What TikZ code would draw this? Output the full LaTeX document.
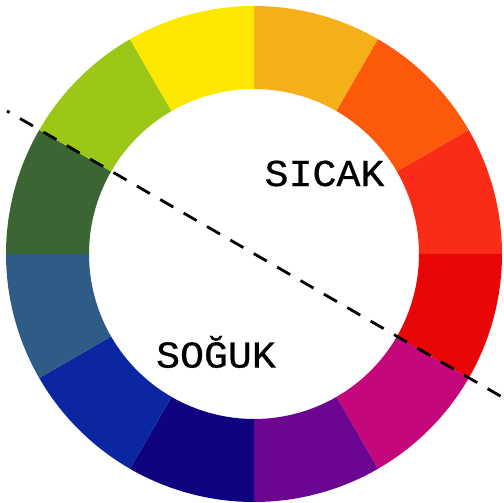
\documentclass[tikz,border=0pt]{standalone}
\usepackage{fontspec}
\usetikzlibrary{calc}
\newfontfamily\labelfont[FakeBold=0.6]{Liberation Mono}
\begin{document}
\begin{tikzpicture}[x=1pt,y=1pt,
  lbl/.style={font=\labelfont\fontsize{38}{38}\selectfont, text=black, inner sep=0pt, xscale=1.05},
  divider/.style={line width=2.8pt, dash pattern=on 15pt off 12pt, dash phase=12pt}]
\useasboundingbox (0,0) rectangle (504,503);
\fill[white] (0,0) rectangle (504,503);
\coordinate (c) at (254,249);
\def\Ro{248}
\def\Ri{165}
\foreach \a/\col in {60/F5AF19, 30/FC5A0A, 0/FB2C17, -30/E80606, -60/C5077C, -90/6C0592,
                     -120/10037F, -150/0A26A0, 180/2F5B87, 150/3C6534, 120/9BC717, 90/FCE800}{
  \definecolor{segcol}{HTML}{\col}
  \fill[segcol] ($(c)+(\a:\Ro)$) arc[start angle=\a, end angle=\a+30, radius=\Ro]
     -- ($(c)+(\a+30:\Ri)$) arc[start angle=\a+30, end angle=\a, radius=\Ri] -- cycle;
}
\coordinate (p1) at (7,392);
\coordinate (p2) at (502,106);
\draw[divider] (p1) -- (p2);
\node[lbl] (sicak) at (324.5,329.5) {SICAK};
\node[lbl] (soguk) at (216,151) {SOĞUK};
\end{tikzpicture}
\end{document}
